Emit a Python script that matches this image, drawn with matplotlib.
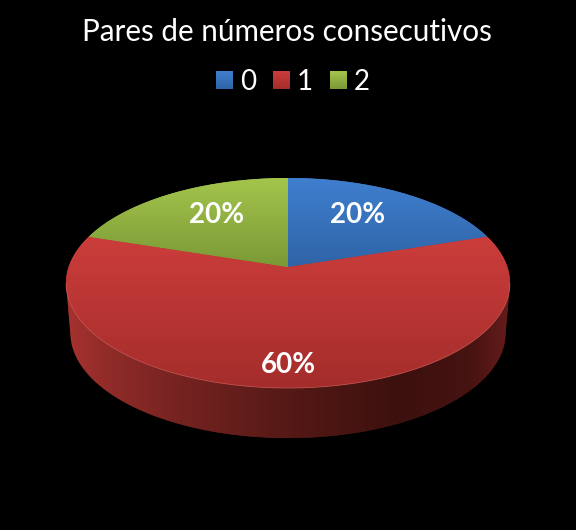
import numpy as np
import matplotlib
matplotlib.use("Agg")
import matplotlib.pyplot as plt
from matplotlib.colors import to_rgb
from matplotlib.path import Path
from matplotlib.patches import PathPatch
from matplotlib.transforms import Transform

# Data
title = "Pares de números consecutivos"
categories = ["0", "1", "2"]
values = [20, 60, 20]
top_colors = ["#3f7fcf", "#cb3d3b", "#a3c54c"]
bottom_colors = ["#2f64a6", "#a42d2b", "#7a9936"]
label_xy = [(358, 215), (288, 365), (217, 215)]

# Projection of the pie plane to pixels
CX, CY, RX, RY, K = 288.0, 267.0, 219.4, 102.6, 0.1525
DEPTH, SHRINK = 50.0, 0.98


def project(xy):
    xy = np.asarray(xy, float)
    w = 1 + K * xy[..., 1]
    return np.stack([CX + RX * xy[..., 0] / w, CY - RY * xy[..., 1] / w], axis=-1)


class Persp(Transform):
    input_dims = output_dims = 2
    is_affine = False
    has_inverse = False

    def transform_non_affine(self, values):
        return project(values)

    def transform_path_non_affine(self, path):
        pts = []
        ts = np.linspace(0, 1, 40)
        for bez, code in path.iter_bezier():
            if code == Path.MOVETO:
                pts.append(bez(np.array([0.0])))
            elif code == Path.CURVE3 or code == Path.CURVE4:
                pts.append(bez(ts))
            else:
                pts.append(bez(np.array([1.0])))
        v = project(np.vstack(pts))
        return Path(np.vstack([v, v[:1]]), closed=True)


def grad_img(c1, c2, n=128, horizontal=False):
    a, b = np.array(to_rgb(c1)), np.array(to_rgb(c2))
    t = np.linspace(0, 1, n)[:, None]
    g = a + (b - a) * t
    return g[None, :, :] if horizontal else g[:, None, :]


fig = plt.figure(figsize=(5.76, 5.30), dpi=100, facecolor="black")
ax = fig.add_axes([0, 0, 1, 1], facecolor="black")
plt.rcParams["font.family"] = ["Lato", "DejaVu Sans"]

wedges, _ = ax.pie(values, startangle=90, counterclock=False, radius=1,
                   colors=top_colors, wedgeprops=dict(linewidth=0))
ax.set_aspect("auto")
ax.set_axis_off()
ax.autoscale(False)
ax.set_xlim(0, 576)
ax.set_ylim(530, 0)

# Side wall: front half between the outermost points of the top and lower rims
th = np.linspace(np.pi * 0.85, np.pi * 2.15, 320)
rim = project(np.stack([np.cos(th), np.sin(th)], axis=-1))
i0, i1 = np.argmin(rim[:, 0]), np.argmax(rim[:, 0])
rim = rim[i0:i1 + 1]
low = rim.copy()
low[:, 0] = CX + (low[:, 0] - CX) * SHRINK
low[:, 1] += DEPTH
side_verts = np.vstack([rim[:1], low, rim[-1:], rim[::-1]])
side = PathPatch(Path(side_verts, closed=False), facecolor="#5c1a18", edgecolor="none", zorder=1)
ax.add_patch(side)
xs = np.array([66, 110, 180, 288, 400, 470, 510])
stops = np.array([to_rgb(c) for c in
                  ["#a6322f", "#8f2b28", "#752321", "#551916", "#3c100e", "#461311", "#651c1a"]])
grid = np.linspace(66, 510, 300)
side_img = np.stack([np.interp(grid, xs, stops[:, i]) for i in range(3)], axis=-1)[None, :, :]
im = ax.imshow(side_img, extent=(66, 510, 440, 275), aspect="auto", zorder=1.1)
im.set_clip_path(side)

# Top slices with gradients
spans = [(178, 267), (237, 388), (178, 267)]
tr = Persp() + ax.transData
for w, c1, c2, (y0, y1) in zip(wedges, top_colors, bottom_colors, spans):
    w.set_transform(tr)
    w.set_zorder(2)
    im = ax.imshow(grad_img(c1, c2), extent=(60, 516, y1, y0), aspect="auto", zorder=2.1)
    im.set_clip_path(w)

# Thin light rim along the front edge
ax.plot(rim[:, 0], rim[:, 1], color="#d8706a", lw=0.6, alpha=0.55, zorder=2.2)

ax.set_xlim(0, 576)
ax.set_ylim(530, 0)

# Text
ax.text(287, 32, title, color="white", fontsize=21.3, ha="center", va="center")
for (x, y), v in zip(label_xy, values):
    ax.text(x, y, f"{v}%", color="white", fontsize=20, fontweight="bold",
            ha="center", va="center", zorder=5)

leg = ax.legend(wedges, categories, ncol=3, frameon=False, labelcolor="white",
                fontsize=20, loc="center", bbox_to_anchor=(0.5 + 5 / 576, 1 - 82 / 530),
                handlelength=0.61, handleheight=0.61, handletextpad=0.25,
                columnspacing=0.6, borderpad=0)
fig.canvas.draw()
inv = ax.transData.inverted()
for h, c1, c2 in zip(leg.legend_handles, top_colors, bottom_colors):
    h.set_linewidth(0)
    bb = h.get_window_extent().transformed(inv)
    x0, x1 = sorted((bb.x0, bb.x1))
    y0, y1 = sorted((bb.y0, bb.y1))
    ax.imshow(grad_img(c1, c2), extent=(x0, x1, y1, y0), aspect="auto", zorder=6)
ax.set_xlim(0, 576)
ax.set_ylim(530, 0)

fig.savefig("out.png", dpi=100, facecolor="black")
